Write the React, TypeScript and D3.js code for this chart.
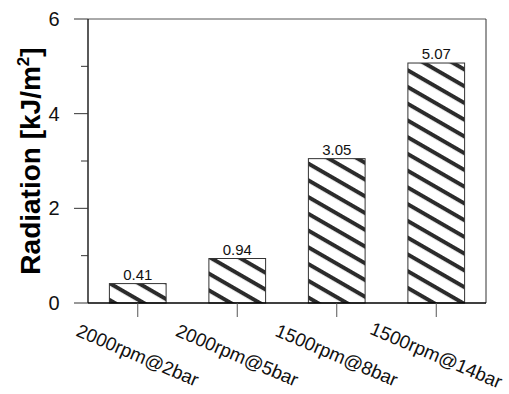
import React from "react";
import * as d3 from "d3";

const categories = ["2000rpm@2bar", "2000rpm@5bar", "1500rpm@8bar", "1500rpm@14bar"];
const values = [0.41, 0.94, 3.05, 5.07];
const valueLabels = ["0.41", "0.94", "3.05", "5.07"];
const majorTicks = [0, 2, 4, 6];
const minorTicks = [1, 3, 5];

export default function App() {
  const W = 509, H = 394;
  const left = 88, right = 486, top = 19, bottom = 303;
  const x = d3.scaleBand<string>().domain(categories).range([left, right]).paddingInner(0.43).paddingOuter(0.215);
  const y = d3.scaleLinear().domain([0, 6]).range([bottom, top]);
  const font = "Arial, 'Liberation Sans', sans-serif";
  return (
    <svg width={W} height={H} style={{ position: "absolute", left: 0, top: 0, background: "#fff" }} fontFamily={font}>
      <defs>
        <pattern id="hatch" patternUnits="userSpaceOnUse" width="20" height="14.5" patternTransform="rotate(30)">
          <rect x="0" y="0" width="20" height="14.5" fill="#fff" />
          <rect x="0" y="0" width="20" height="4" fill="#2b2b2b" />
        </pattern>
      </defs>
      {/* frame */}
      <line x1={left} x2={right} y1={top} y2={top} stroke="#555" strokeWidth={1} />
      <line x1={right} x2={right} y1={top} y2={bottom} stroke="#333" strokeWidth={1} />
      {/* bars */}
      {categories.map((c, i) => (
        <g key={c}>
          <rect x={x(c)!} y={y(values[i])} width={x.bandwidth()} height={bottom - y(values[i])} fill="url(#hatch)" stroke="#333" strokeWidth={1} />
          <text x={x(c)! + x.bandwidth() / 2} y={y(values[i]) - 4} textAnchor="middle" fontSize={15} fill="#111">{valueLabels[i]}</text>
        </g>
      ))}
      {/* y axis */}
      <line x1={left} x2={left} y1={top} y2={bottom} stroke="#000" strokeWidth={1.3} />
      {majorTicks.map(t => (
        <g key={t}>
          <line x1={left - 14} x2={left} y1={y(t)} y2={y(t)} stroke="#333" strokeWidth={1} />
          <text x={54} y={y(t)} dy="0.35em" textAnchor="middle" fontSize={20} fill="#111">{t}</text>
        </g>
      ))}
      {minorTicks.map(t => (
        <line key={t} x1={left - 7} x2={left} y1={y(t)} y2={y(t)} stroke="#333" strokeWidth={1} />
      ))}
      {/* x axis */}
      <line x1={left} x2={right} y1={bottom} y2={bottom} stroke="#000" strokeWidth={1.5} />
      {categories.map(c => {
        const cx = x(c)! + x.bandwidth() / 2;
        return (
          <g key={c}>
            <line x1={cx} x2={cx} y1={bottom} y2={bottom + 14} stroke="#555" strokeWidth={1} />
            <text transform={`translate(${cx},${355}) rotate(23)`} textAnchor="middle" dy="0.35em" fontSize={18.8} fill="#111">{c}</text>
          </g>
        );
      })}
      <text transform={`translate(${40},${161}) rotate(-90)`} textAnchor="middle" fontSize={28} fontWeight="bold" fill="#000">
        Radiation [kJ/m<tspan dy="-11" fontSize={17}>2</tspan><tspan dy="11">]</tspan>
      </text>
    </svg>
  );
}
